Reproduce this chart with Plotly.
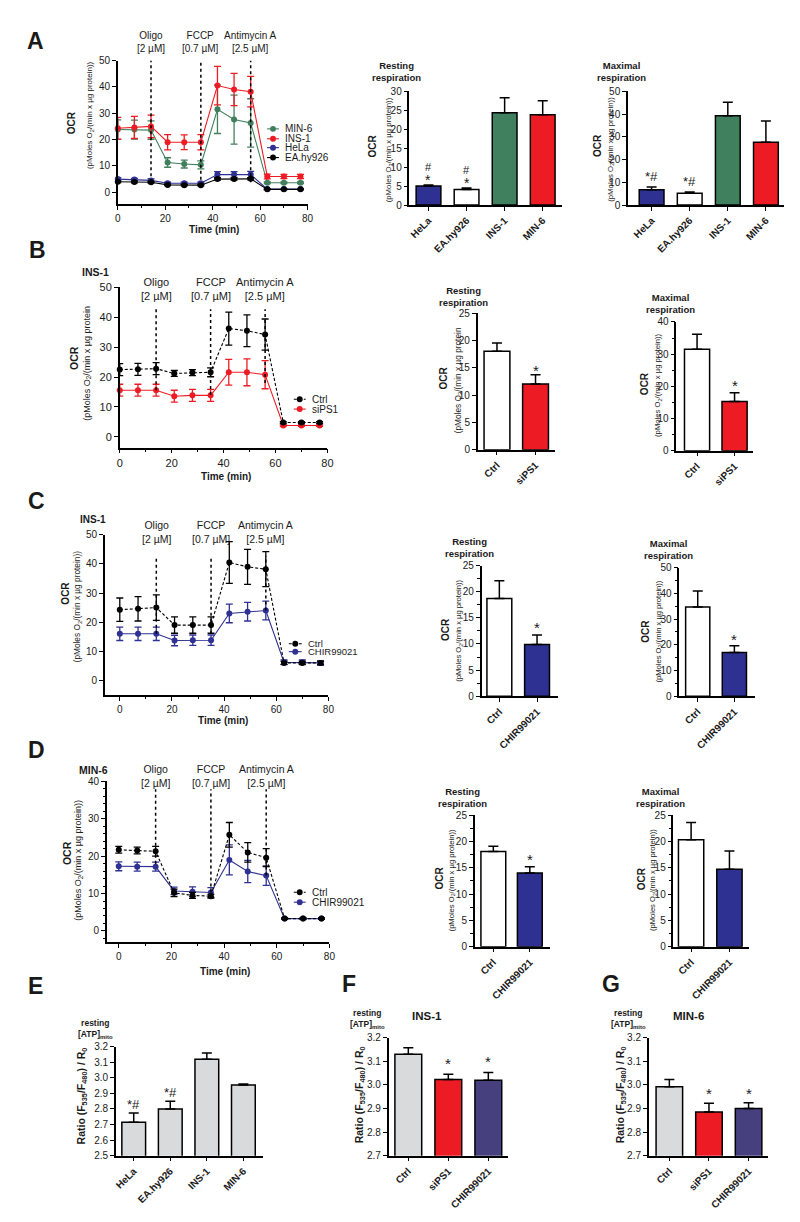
import plotly.graph_objects as go

FONT = "Arial, Liberation Sans, Helvetica, sans-serif"
TXT = "#1a1a1a"
W, H = 800, 1222

GREEN = "#41805f"
RED = "#ed1c24"
BLUE = "#2e3192"
PURPLE = "#46417e"
GRAY = "#d9dadb"
BLACK = "#000000"
DASH = "3px,2px"

# ---------------- data ----------------
time_min = [0, 7, 14, 21, 28, 35, 42, 49, 56, 63, 70, 77]
drug_labels = ["Oligo<br>[2 µM]", "FCCP<br>[0.7 µM]", "Antimycin A<br>[2.5 µM]"]
drug_times = [14, 35, 56]

# Panel A time course
a_names = ["MIN-6", "INS-1", "HeLa", "EA.hy926"]
a_min6 = [23.8, 23.8, 23.6, 11.3, 10.7, 10.4, 31.5, 27.6, 26.3, 3.6, 3.6, 3.6]
a_min6_err = [3.7, 3.6, 3.5, 1.8, 1.5, 1.5, 9.2, 9.3, 9.2, 0.3, 0.3, 0.3]
a_ins1 = [24.3, 24.6, 25.0, 19.0, 19.0, 19.0, 40.5, 39.0, 38.2, 6.0, 6.0, 6.0]
a_ins1_err = [4.1, 4.2, 4.3, 2.9, 2.8, 2.9, 7.3, 6.1, 5.8, 0.9, 0.8, 0.8]
a_hela = [5.0, 4.8, 4.5, 3.4, 3.4, 3.4, 6.7, 6.7, 6.7, 1.2, 1.2, 1.2]
a_hela_err = [0.5, 0.5, 0.6, 0.4, 0.4, 0.4, 1.1, 1.1, 1.2, 0.2, 0.2, 0.2]
a_ea = [4.0, 3.9, 3.8, 2.8, 2.7, 2.7, 5.0, 5.0, 5.1, 1.1, 1.1, 1.1]
a_ea_err = [0.3, 0.3, 0.3, 0.3, 0.3, 0.3, 0.4, 0.4, 0.4, 0.1, 0.1, 0.1]

# Panel A bars
a_cells = ["HeLa", "EA.hy926", "INS-1", "MIN-6"]
a_rest = [5.0, 4.1, 24.3, 23.8]
a_rest_err = [0.3, 0.4, 4.0, 3.7]
a_rest_sig = ["#|*", "#|*", "", ""]
a_max = [6.7, 5.2, 39.2, 27.6]
a_max_err = [1.2, 0.5, 6.0, 9.3]
a_max_sig = ["*#", "*#", "", ""]

# Panel B (INS-1, siPS1)
b_names = ["Ctrl", "siPS1"]
b_ctrl = [22.5, 22.6, 22.8, 21.2, 21.5, 21.6, 36.2, 35.5, 34.2, 4.8, 4.8, 4.8]
b_ctrl_err = [2.0, 2.0, 2.0, 1.0, 1.0, 1.5, 5.5, 5.3, 5.2, 0.3, 0.3, 0.3]
b_sips1 = [15.6, 15.6, 15.6, 13.6, 13.9, 13.9, 21.6, 21.6, 20.8, 3.8, 3.8, 3.8]
b_sips1_err = [2.0, 2.0, 2.0, 2.0, 2.0, 2.0, 4.3, 4.5, 4.7, 0.3, 0.3, 0.3]
b_rest = [18.0, 12.0]
b_rest_err = [1.5, 1.7]
b_rest_sig = ["", "*"]
b_max = [31.5, 15.3]
b_max_err = [4.7, 2.7]
b_max_sig = ["", "*"]

# Panel C (INS-1, CHIR99021)
c_names = ["Ctrl", "CHIR99021"]
c_ctrl = [24.3, 24.6, 25.0, 19.0, 19.0, 19.0, 40.5, 39.0, 38.2, 6.0, 6.0, 6.0]
c_ctrl_err = [4.0, 4.2, 4.4, 2.8, 2.8, 2.8, 7.2, 6.0, 6.0, 0.5, 0.5, 0.5]
c_chir = [16.0, 16.0, 16.0, 13.7, 13.8, 13.8, 23.0, 23.6, 24.0, 6.2, 6.2, 6.0]
c_chir_err = [2.3, 2.3, 2.3, 1.8, 1.8, 1.8, 3.2, 3.2, 3.2, 0.8, 0.8, 0.8]
c_rest = [18.7, 9.9]
c_rest_err = [3.4, 1.8]
c_rest_sig = ["", "*"]
c_max = [34.7, 17.0]
c_max_err = [6.2, 2.6]
c_max_sig = ["", "*"]

# Panel D (MIN-6, CHIR99021)
d_names = ["Ctrl", "CHIR99021"]
d_ctrl = [21.7, 21.5, 21.3, 10.2, 9.5, 9.3, 25.7, 21.0, 19.6, 3.3, 3.3, 3.3]
d_ctrl_err = [0.9, 0.9, 1.3, 1.0, 0.8, 0.5, 3.3, 2.6, 2.4, 0.2, 0.2, 0.2]
d_chir = [17.3, 17.2, 17.2, 10.7, 10.5, 10.3, 19.0, 15.9, 14.8, 3.3, 3.3, 3.3]
d_chir_err = [1.2, 1.2, 1.2, 1.0, 1.3, 1.3, 4.0, 3.0, 2.6, 0.2, 0.2, 0.2]
d_rest = [18.1, 14.0]
d_rest_err = [1.0, 1.2]
d_rest_sig = ["", "*"]
d_max = [20.3, 14.7]
d_max_err = [3.3, 3.5]
d_max_sig = ["", ""]

# Panel E/F/G ATP ratios
e_cells = ["HeLa", "EA.hy926", "INS-1", "MIN-6"]
e_ratio = [2.715, 2.80, 3.12, 2.955]
e_ratio_err = [0.06, 0.05, 0.04, 0.005]
e_sig = ["*#", "*#", "", ""]
fg_conds = ["Ctrl", "siPS1", "CHIR99021"]
f_ratio = [3.13, 3.023, 3.02]
f_ratio_err = [0.028, 0.023, 0.033]
f_sig = ["", "*", "*"]
g_ratio = [2.993, 2.885, 2.90]
g_ratio_err = [0.03, 0.038, 0.025]
g_sig = ["", "*", "*"]

# ---------------- helpers ----------------
fig = go.Figure()
layout = {}
annotations = []
shapes = []
_n = [0]


def px2x(p):
    return p / W


def py2y(p):
    return 1 - p / H


def new_axes(xpx, ypx, xr, yr, xcfg=None, ycfg=None, tsize=10):
    _n[0] += 1
    s = "" if _n[0] == 1 else str(_n[0])
    base = dict(showline=True, linecolor="black", linewidth=1.5, ticks="outside",
                ticklen=4, tickwidth=1.3, tickcolor="black", showgrid=False,
                zeroline=False, fixedrange=True,
                tickfont=dict(family=FONT, size=tsize, color=TXT))
    xa = dict(base, domain=[px2x(xpx[0]), px2x(xpx[1])], range=xr, anchor="y" + s)
    ya = dict(base, domain=[py2y(ypx[1]), py2y(ypx[0])], range=yr, anchor="x" + s)
    if xcfg:
        xa.update(xcfg)
    if ycfg:
        ya.update(ycfg)
    layout["xaxis" + s] = xa
    layout["yaxis" + s] = ya
    return "x" + s, "y" + s


def text(t, x, y, size, bold=False, angle=0, xanchor="center", yanchor="middle"):
    if bold:
        t = "<b>" + t + "</b>"
    annotations.append(dict(text=t, x=px2x(x), y=py2y(y), xref="paper", yref="paper",
                            xanchor=xanchor, yanchor=yanchor, textangle=angle,
                            showarrow=False, font=dict(family=FONT, size=size, color=TXT)))


def ocr_title(x_ocr, y_ocr, x_par, y_par, par_size, closed=True, ocr_size=10):
    text("OCR", x_ocr, y_ocr, ocr_size, bold=True, angle=-90)
    t = "(pMoles O<sub>2</sub>/(min x µg protein" + ("))" if closed else "")
    text(t, x_par, y_par, par_size, angle=-90)


def legend(items, xs0, xs1, xt, ys, size):
    for (name, color, dash), yp in zip(items, ys):
        shapes.append(dict(type="line", xref="paper", yref="paper",
                           x0=px2x(xs0), x1=px2x(xs1), y0=py2y(yp), y1=py2y(yp),
                           line=dict(color=color, width=1.1, dash=dash)))
        cx = (xs0 + xs1) / 2
        shapes.append(dict(type="circle", xref="paper", yref="paper",
                           x0=px2x(cx - 3), x1=px2x(cx + 3), y0=py2y(yp + 3), y1=py2y(yp - 3),
                           fillcolor=color, line=dict(color=color, width=0)))
        text(name, xt, yp, size, xanchor="left")


def line_panel(xpx, ypx, xr, yr, ydtick, series, spans, label_py, label_size,
               tsize=10, yminor=None):
    ycfg = dict(dtick=ydtick, tick0=0)
    if yminor:
        ycfg["minor"] = dict(ticks="outside", ticklen=2.5, tickwidth=1, dtick=yminor, tick0=0)
    xa, ya = new_axes(xpx, ypx, xr, yr,
                      xcfg=dict(dtick=20, tick0=0,
                                minor=dict(ticks="outside", ticklen=2.5, tickwidth=1, dtick=10, tick0=0)),
                      ycfg=ycfg, tsize=tsize)
    for name, y, err, color, dash in series:
        fig.add_trace(go.Scatter(
            x=time_min, y=y, name=name, mode="lines+markers", cliponaxis=False,
            line=dict(color=color, width=1.1, dash=dash),
            marker=dict(color=color, size=6),
            error_y=dict(type="data", array=err, color=color, thickness=1.3, width=3.5),
            xaxis=xa, yaxis=ya, showlegend=False))
    for t, lab, (y0, y1) in zip(drug_times, drug_labels, spans):
        shapes.append(dict(type="line", xref=xa, yref=ya, x0=t, x1=t, y0=y0, y1=y1,
                           line=dict(color="black", width=1.5, dash="dot")))
        annotations.append(dict(text=lab, x=t, y=py2y(label_py), xref=xa, yref="paper",
                                xanchor="center", yanchor="middle", showarrow=False,
                                font=dict(family=FONT, size=label_size, color=TXT)))
    return xa, ya


def bar_panel(xpx, ypx, xr, yr, cats, vals, errs, colors, sig, ydtick, width,
              yminor=None, tickformat=None, sig_size=15, sig_shift=-6):
    ycfg = dict(dtick=ydtick, tick0=yr[0])
    if yminor:
        ycfg["minor"] = dict(ticks="outside", ticklen=2.5, tickwidth=1, dtick=yminor, tick0=yr[0])
    if tickformat:
        ycfg["tickformat"] = tickformat
    xa, ya = new_axes(xpx, ypx, xr, yr,
                      xcfg=dict(type="category", categoryorder="array", categoryarray=cats,
                                tickangle=-45,
                                tickfont=dict(family=FONT, size=10, color=TXT, weight="bold")),
                      ycfg=ycfg)
    fig.add_trace(go.Bar(
        x=cats, y=vals, width=width,
        marker=dict(color=colors, line=dict(color="black", width=1.5)),
        error_y=dict(type="data", array=errs, arrayminus=[0] * len(errs), symmetric=False,
                     color="black", thickness=1.5, width=5),
        xaxis=xa, yaxis=ya, showlegend=False))
    for c, v, e, s in zip(cats, vals, errs, sig):
        if not s:
            continue
        if "|" in s:
            top, bottom = s.split("|")
            annotations.append(dict(text=bottom, x=c, y=v + e, xref=xa, yref=ya,
                                    yanchor="bottom", yshift=-5, showarrow=False,
                                    font=dict(family=FONT, size=14, color=TXT)))
            annotations.append(dict(text=top, x=c, y=v + e, xref=xa, yref=ya,
                                    yanchor="bottom", yshift=10, showarrow=False,
                                    font=dict(family=FONT, size=11, color=TXT)))
        else:
            annotations.append(dict(text=s, x=c, y=v + e, xref=xa, yref=ya,
                                    yanchor="bottom", yshift=sig_shift, showarrow=False,
                                    font=dict(family=FONT, size=sig_size, color=TXT)))
    return xa, ya


# ---------------- Panel A ----------------
text("A", 25, 27, 23, bold=True)
line_panel((108, 300), (47, 192), [0, 80], [-4.5, 50], 10,
           [(a_names[0], a_min6, a_min6_err, GREEN, "solid"),
            (a_names[1], a_ins1, a_ins1_err, RED, "solid"),
            (a_names[2], a_hela, a_hela_err, BLUE, "solid"),
            (a_names[3], a_ea, a_ea_err, BLACK, "solid")],
           [(3.8, 50), (2.5, 50), (3.8, 50)], 28.5, 10)
legend([(a_names[0], GREEN, "solid"), (a_names[1], RED, "solid"),
        (a_names[2], BLUE, "solid"), (a_names[3], BLACK, "solid")],
       259, 271, 275, [116, 126, 135, 145], 10)
ocr_title(62, 110, 80, 102, 8)
text("Time (min)", 205, 218, 10, bold=True)

text("Resting<br>respiration", 390, 58.5, 9.5, bold=True)
bar_panel((403, 557), (78, 193), [-0.5, 3.5], [0, 30], a_cells, a_rest, a_rest_err,
          [BLUE, "white", GREEN, RED], a_rest_sig, 5, 0.65)
ocr_title(366, 133, 382, 137, 7.8)

text("Maximal<br>respiration", 617, 58.5, 9.5, bold=True)
bar_panel((624, 782), (78, 193), [-0.62, 3.48], [0, 50], a_cells, a_max, a_max_err,
          [BLUE, "white", GREEN, RED], a_max_sig, 10, 0.65, sig_size=13, sig_shift=1)
ocr_title(593, 133, 606, 137, 7.8)

# ---------------- Panel B ----------------
text("B", 27, 238, 23, bold=True)
text("INS-1", 85, 261, 10.5, bold=True)
line_panel((110, 320), (276, 438), [0, 80], [-3.6, 50], 10,
           [(b_names[1], b_sips1, b_sips1_err, RED, "solid"),
            (b_names[0], b_ctrl, b_ctrl_err, BLACK, DASH)],
           [(15.6, 42.7), (14.0, 42.7), (18.0, 42.7)], 278, 11, tsize=11)
legend([(b_names[0], BLACK, DASH), (b_names[1], RED, "solid")],
       286, 298, 302, [389, 399], 10)
ocr_title(63, 347, 77, 353, 9, closed=False, ocr_size=10.5)
text("Time (min)", 217, 467, 10, bold=True)

text("Resting<br>respiration", 458, 285, 9.5, bold=True)
bar_panel((472, 550), (302, 440), [-0.5, 1.5], [0, 25], b_names, b_rest, b_rest_err,
          ["white", RED], b_rest_sig, 5, 0.67, sig_shift=-6)
ocr_title(437, 368, 452, 370, 8.3, closed=False)

text("Maximal<br>respiration", 667, 292, 9.5, bold=True)
bar_panel((673, 750), (311, 441), [-0.55, 1.48], [0, 40], b_names, b_max, b_max_err,
          ["white", RED], b_max_sig, 10, 0.67, yminor=5, sig_shift=-3)
ocr_title(641, 373, 655, 375, 7.7)

# ---------------- Panel C ----------------
text("C", 26, 492, 23, bold=True)
text("INS-1", 83, 511, 10, bold=True)
line_panel((95, 321), (526, 688), [-5.7, 80], [-5.1, 50], 10,
           [(c_names[1], c_chir, c_chir_err, BLUE, "solid"),
            (c_names[0], c_ctrl, c_ctrl_err, BLACK, DASH)],
           [(16, 42.8), (16, 42.8), (24, 42.8)], 523, 10.5)
legend([(c_names[0], BLACK, DASH), (c_names[1], BLUE, "solid")],
       281, 294, 298, [636, 644], 9.5)
ocr_title(55, 585, 67, 598, 8.3)
text("Time (min)", 214, 714, 10, bold=True)

text("Resting<br>respiration", 464, 539, 9.5, bold=True)
bar_panel((476, 553), (557, 689), [-0.47, 1.55], [0, 25], c_names, c_rest, c_rest_err,
          ["white", BLUE], c_rest_sig, 5, 0.66, yminor=2.5, sig_shift=-3)
ocr_title(440, 622, 453, 623, 7.6)

text("Maximal<br>respiration", 665, 541, 9.5, bold=True)
bar_panel((676, 752), (559, 689), [-0.5, 1.55], [0, 50], c_names, c_max, c_max_err,
          ["white", BLUE], c_max_sig, 10, 0.66, yminor=5, sig_shift=-4)
ocr_title(642, 623, 655, 624, 7.6)

# ---------------- Panel D ----------------
text("D", 26, 743, 23, bold=True)
text("MIN-6", 83, 763, 10.5, bold=True)
line_panel((97, 322), (775, 937), [-4.5, 80], [-2.9, 40], 10,
           [(d_names[1], d_chir, d_chir_err, BLUE, "solid"),
            (d_names[0], d_ctrl, d_ctrl_err, BLACK, DASH)],
           [(18, 37.9), (8.7, 37.9), (14.8, 37.9)], 770, 10.5, yminor=2)
legend([(d_names[0], BLACK, DASH), (d_names[1], BLUE, "solid")],
       286, 298, 302, [887, 897], 10)
ocr_title(56, 847, 68, 855, 9, ocr_size=10.5)
text("Time (min)", 216, 967, 10, bold=True)

text("Resting<br>respiration", 457, 791, 9.5, bold=True)
bar_panel((469, 545), (809, 942), [-0.51, 1.55], [0, 25], d_names, d_rest, d_rest_err,
          ["white", BLUE], d_rest_sig, 5, 0.68, yminor=2.5, sig_shift=-3)
ocr_title(433, 873, 446, 875, 7.6)

text("Maximal<br>respiration", 657, 791, 9.5, bold=True)
bar_panel((670, 746), (809, 942), [-0.46, 1.5], [0, 25], d_names, d_max, d_max_err,
          ["white", BLUE], d_max_sig, 5, 0.66, yminor=2.5)
ocr_title(638, 873, 650, 875, 7.6)

# ---------------- Panel E ----------------
RATIO = "Ratio (F<sub>535</sub>/F<sub>480</sub>) / R<sub>0</sub>"
text("E", 25, 982, 23, bold=True)
text("resting<br>[ATP]<sub>mito</sub>", 85, 1025, 8.5, bold=True)
bar_panel((106, 255), (1043, 1153), [-0.49, 3.54], [2.5, 3.2], e_cells, e_ratio, e_ratio_err,
          [GRAY] * 4, e_sig, 0.1, 0.65, tickformat=".1f", sig_size=13, sig_shift=-1)
text(RATIO, 72, 1093, 10.5, bold=True, angle=-90)

# ---------------- Panel F ----------------
text("F", 342, 980, 23, bold=True)
text("resting<br>[ATP]<sub>mito</sub>", 361, 1015, 8.5, bold=True)
text("INS-1", 421, 1012, 11.5, bold=True)
bar_panel((382, 503), (1034, 1153), [-0.49, 2.5], [2.7, 3.2], fg_conds, f_ratio, f_ratio_err,
          [GRAY, RED, PURPLE], f_sig, 0.1, 0.67, tickformat=".1f", sig_shift=0)
text(RATIO, 353, 1092, 10.5, bold=True, angle=-90)

# ---------------- Panel G ----------------
text("G", 607, 980, 23, bold=True)
text("resting<br>[ATP]<sub>mito</sub>", 625, 1015, 8.5, bold=True)
text("MIN-6", 685, 1012, 11.5, bold=True)
bar_panel((645, 766), (1034, 1153), [-0.52, 2.5], [2.7, 3.2], fg_conds, g_ratio, g_ratio_err,
          [GRAY, RED, PURPLE], g_sig, 0.1, 0.67, tickformat=".1f", sig_shift=-1)
text(RATIO, 617, 1092, 10.5, bold=True, angle=-90)

fig.update_layout(width=W, height=H, margin=dict(l=0, r=0, t=0, b=0),
                  plot_bgcolor="white", paper_bgcolor="white", showlegend=False,
                  font=dict(family=FONT, color=TXT),
                  annotations=annotations, shapes=shapes, **layout)
fig.write_html("out.html")
